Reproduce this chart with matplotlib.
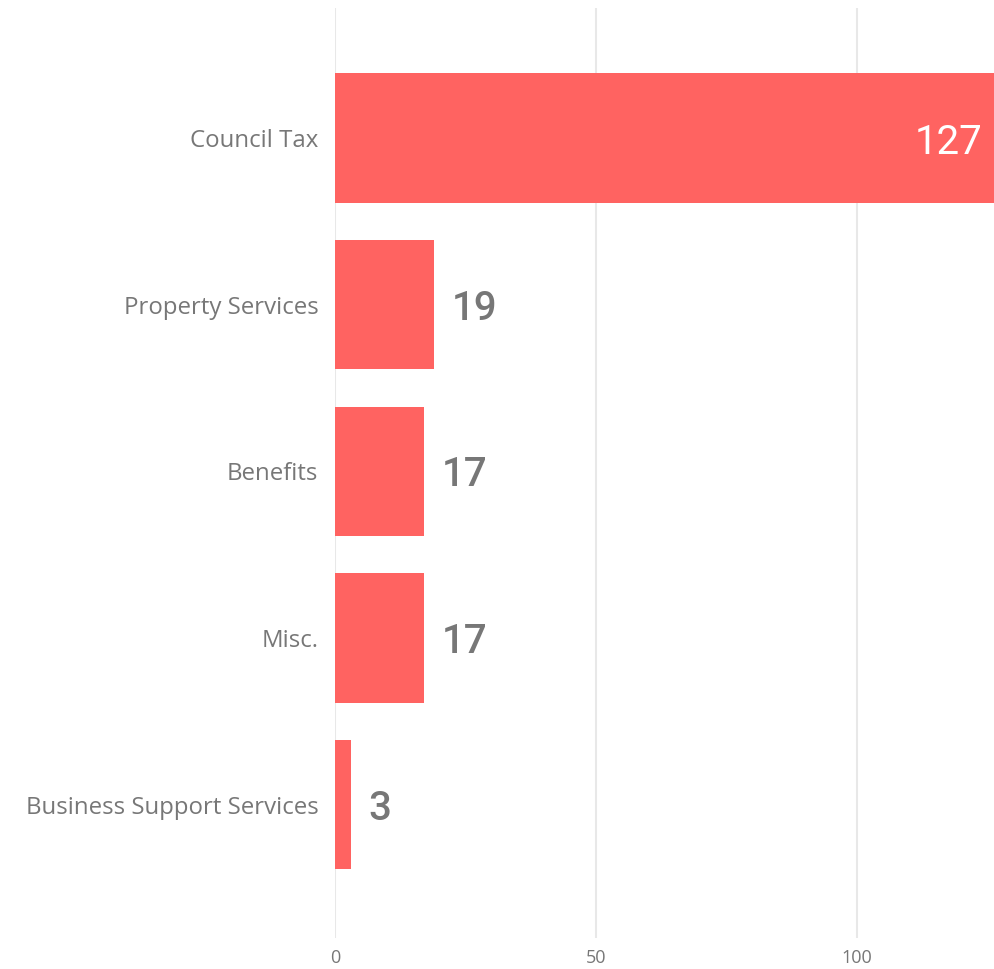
import matplotlib
matplotlib.use("Agg")
import matplotlib.pyplot as plt

categories = ["Council Tax", "Property Services", "Benefits", "Misc.", "Business Support Services"]
values = [127, 19, 17, 17, 3]
xticks = [0, 50, 100]

BAR = "#FF6361"
GREY = "#777777"

fig = plt.figure(figsize=(9.94, 9.69), dpi=100)
ax = fig.add_axes([335/994, 1-938/969, 1-335/994, (938-8)/969])

ypos = list(range(len(categories)))
ax.barh(ypos, values, height=0.775, color=BAR, zorder=2)
ax.set_xlim(0, 126.2)
ax.set_ylim(4.8, -0.78)
ax.set_yticks(ypos)
ax.set_yticklabels(categories, fontsize=17.3, color=GREY, family="Open Sans")
ax.set_xticks(xticks)
ax.set_xticklabels([str(t) for t in xticks], fontsize=13, color=GREY, family="Open Sans")
ax.tick_params(axis="both", length=0)
ax.tick_params(axis="y", pad=12)
ax.tick_params(axis="x", pad=8)
ax.grid(axis="x", color="#E8E8E8", linewidth=1.5, zorder=0)
for s in ax.spines.values():
    s.set_visible(False)

for y, v in zip(ypos, values):
    if v > 100:
        ax.annotate(str(v), (126.2, y), xytext=(-12, -4), textcoords="offset pixels",
                    ha="right", va="center", fontsize=29, color="white", family="Roboto")
    else:
        ax.annotate(str(v), (v, y), xytext=(18, -4), textcoords="offset pixels",
                    ha="left", va="center", fontsize=29, color=GREY, family="Roboto",
                    fontweight="medium")

fig.savefig("out.png", dpi=100)
